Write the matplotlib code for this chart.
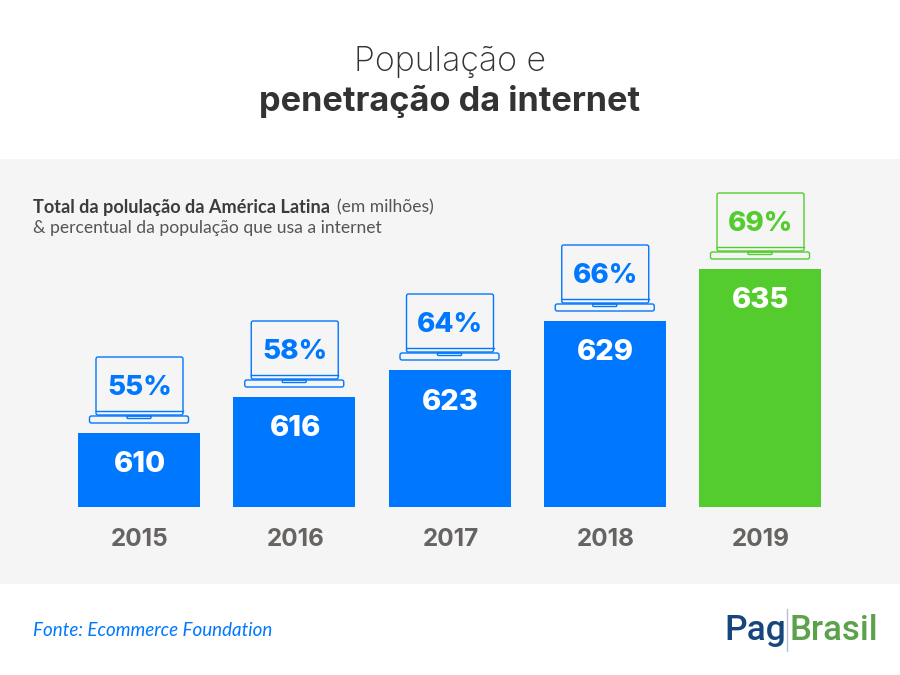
import matplotlib
matplotlib.use("Agg")
import matplotlib.pyplot as plt
from matplotlib.patches import FancyBboxPatch, Rectangle
from matplotlib.transforms import Affine2D

# === DATA ===
years = ["2015", "2016", "2017", "2018", "2019"]
population = [610, 616, 623, 629, 635]
internet_pct = [55, 58, 64, 66, 69]
# bar heights as drawn in the picture (not proportional to the labels)
bar_heights = [74, 110, 137, 186, 238]

BLUE = "#0077FF"
GREEN = "#55CC2E"
GRAY_BG = "#F5F5F5"
TITLE_FONT = "Inter"
BODY_FONT = "Lato"
LOGO_FONT = "Roboto"

STEP = 155.25  # pixels between bars
X0 = 139
BASE = 507

# image pixels, y going down
pixel_tf = Affine2D().scale(1, -1).translate(0, 675)


def px(x):
    return (x - X0) / STEP


def py(y):
    return BASE - y


def draw_laptop(ax, i, top, color, pct):
    # icon sits on top of its bar, sizes in pixels
    cx = X0 + i * STEP
    bottom = BASE - top - 10  # lower edge of the base
    box = lambda x, y, w, h, r: FancyBboxPatch(
        (x, y), w, h, boxstyle=f"round,pad=0,rounding_size={r}",
        fc="none", ec=color, lw=1.0, transform=pixel_tf, zorder=3)
    # screen
    ax.add_patch(box(cx - 43, bottom - 66, 87, 58, 2))
    ax.plot([px(cx - 43), px(cx + 44)], [py(bottom - 12)] * 2, color=color, lw=1.0, zorder=3)
    # base
    ax.add_patch(box(cx - 49.5, bottom - 7, 99, 7, 2))
    ax.add_patch(box(cx - 12, bottom - 7, 24, 2.5, 1))
    ax.text(px(cx + 0.5), py(bottom - 35), f"{pct}%", color=color, fontsize=20, fontweight="heavy",
            family=TITLE_FONT, ha="center", va="center", zorder=4)


fig = plt.figure(figsize=(9, 6.75), dpi=100, facecolor="white")
ax = fig.add_axes([0, 0, 1, 1])
ax.set_xlim(px(0), px(900))
ax.set_ylim(py(675), py(0))
ax.axis("off")

ax.add_patch(Rectangle((0, 159), 900, 425, fc=GRAY_BG, ec="none", transform=pixel_tf, zorder=0))

colors = [BLUE] * 4 + [GREEN]
ax.bar(range(len(years)), bar_heights, width=122 / STEP, color=colors, zorder=2)

for i, (year, pop, pct, h) in enumerate(zip(years, population, internet_pct, bar_heights)):
    ax.text(px(X0 + i * STEP + 1), h - 32, str(pop), color="white", fontsize=21, fontweight="heavy",
            family=TITLE_FONT, ha="center", va="center", zorder=4)
    ax.text(px(X0 + i * STEP + 1), py(539.5), year, color="#666462", fontsize=17.5, fontweight="bold",
            family=TITLE_FONT, ha="center", va="center")
    draw_laptop(ax, i, h, colors[i], pct)

# titles
ax.text(px(450), py(62), "População e", fontsize=24.4, fontweight="light", color="#333333",
        family=TITLE_FONT, ha="center", va="center")
ax.text(px(450), py(101), "penetração da internet", fontsize=24.7, fontweight="bold", color="#333333",
        family=TITLE_FONT, ha="center", va="center")

# subtitle
ax.text(px(33), py(207), "Total da polulação da América Latina", fontsize=13.05, fontweight="bold",
        color="#3C3C3C", family=BODY_FONT, ha="left", va="center")
ax.text(px(337), py(207), "(em milhões)", fontsize=12.6, color="#555555",
        family=BODY_FONT, ha="left", va="center")
ax.text(px(33), py(228), "& percentual da população que usa a internet", fontsize=12.65, color="#555555",
        family=BODY_FONT, ha="left", va="center")

# footer
ax.text(px(33), py(631), "Fonte: Ecommerce Foundation", fontsize=13.5, style="italic", color=BLUE,
        family=BODY_FONT, ha="left", va="center")
ax.text(px(786), py(640), "Pag", fontsize=25.5, fontweight="medium", color="#17467C", family=LOGO_FONT,
        ha="right", va="baseline")
ax.plot([px(787), px(787)], [py(609), py(651)], color="#B5C5CE", lw=1)
ax.text(px(789), py(640), "Brasil", fontsize=25, fontweight="medium", color="#5BA24A", family=LOGO_FONT,
        ha="left", va="baseline")

fig.savefig("out.png", dpi=100, facecolor="white")
